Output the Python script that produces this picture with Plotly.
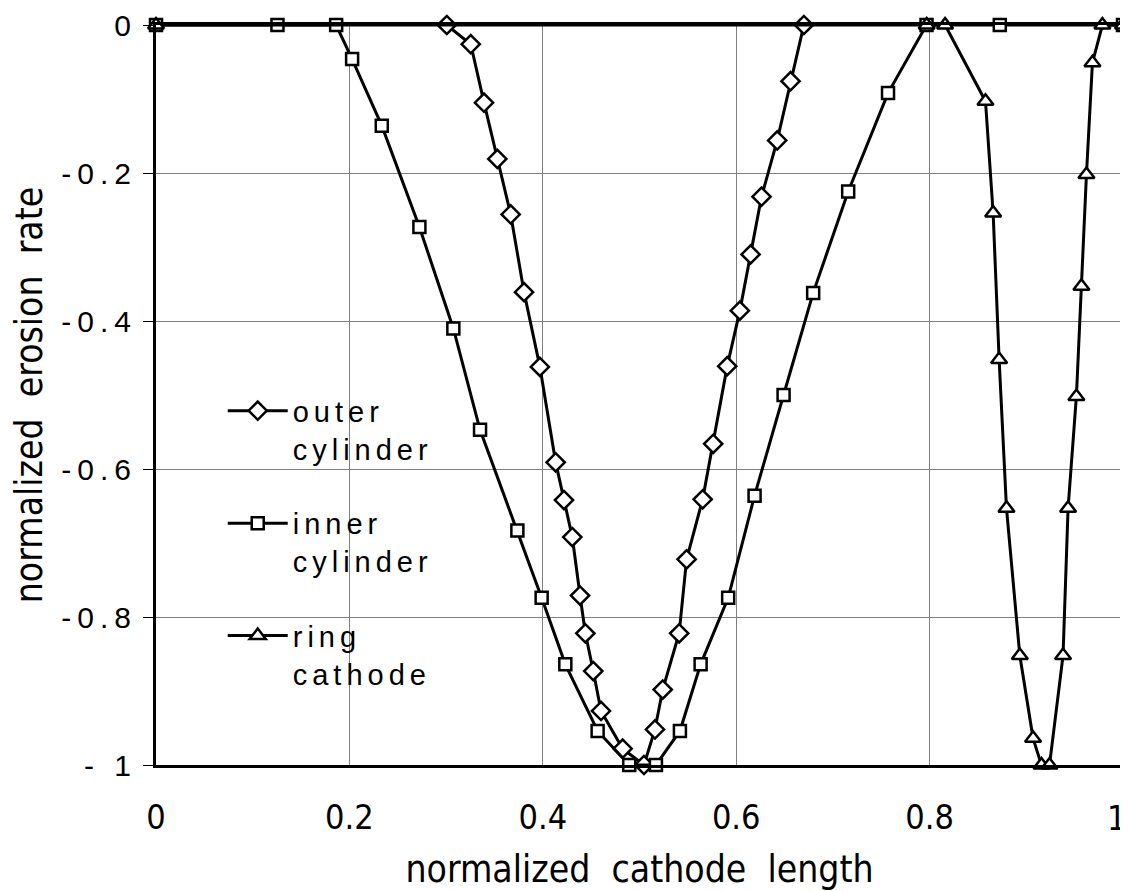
import plotly.graph_objects as go

# ---- data ----
outer_x = [0.3007, 0.3255, 0.3392, 0.3530, 0.3668, 0.3806, 0.3970, 0.4133, 0.4219, 0.4305,
           0.4385, 0.4440, 0.4522, 0.4602, 0.4826, 0.5046, 0.5160, 0.5240, 0.5410, 0.5487,
           0.5653, 0.5762, 0.5907, 0.6038, 0.6149, 0.6262, 0.6424, 0.6562, 0.6700]
outer_y = [0.0, -0.026, -0.105, -0.181, -0.256, -0.361, -0.462, -0.591, -0.642, -0.692,
           -0.771, -0.822, -0.873, -0.927, -0.978, -1.0, -0.952, -0.898, -0.822, -0.722,
           -0.641, -0.566, -0.461, -0.386, -0.310, -0.232, -0.156, -0.076, 0.0]

inner_x = [0.0, 0.1256, 0.1863, 0.2028, 0.2335, 0.2724, 0.3075, 0.3351, 0.3737, 0.3988,
           0.4233, 0.4567, 0.4894, 0.5170, 0.5418, 0.5632, 0.5917, 0.6190, 0.6490, 0.6796,
           0.7158, 0.7570, 0.7968, 0.8726, 1.0]
inner_y = [0.0, 0.0, 0.0, -0.046, -0.136, -0.273, -0.410, -0.547, -0.683, -0.774,
           -0.864, -0.954, -1.0, -1.0, -0.954, -0.864, -0.774, -0.636, -0.500, -0.362,
           -0.225, -0.092, 0.0, 0.0, 0.0]

ring_x = [0.0, 0.7970, 0.8160, 0.8578, 0.8657, 0.8719, 0.8795, 0.8933, 0.9070, 0.9157,
          0.9240, 0.9380, 0.9432, 0.9518, 0.9570, 0.9622, 0.9684, 0.9787, 1.0]
ring_y = [0.0, 0.0, 0.0, -0.103, -0.254, -0.452, -0.653, -0.852, -0.964, -1.0,
          -1.0, -0.852, -0.653, -0.502, -0.353, -0.202, -0.051, 0.0, 0.0]

x_tickvals = [0, 0.2, 0.4, 0.6, 0.8]
x_ticktext = ["0", "0.2", "0.4", "0.6", "0.8"]
x_last_tick = 1
x_last_text = "1"
x_minor_ticks = [0.2, 0.4, 0.6, 0.8]
y_tickvals = [0, -0.2, -0.4, -0.6, -0.8, -1]
y_ticktext = ["0", "-0.2", "-0.4", "-0.6", "-0.8", "- 1"]

series = [
    ("outer<br>cylinder", outer_x, outer_y, "diamond", 14, "outer"),
    ("inner<br>cylinder", inner_x, inner_y, "square", 12, "inner"),
    ("ring<br>cathode", ring_x, ring_y, "triangle-up", 14, "ring"),
]

NARROW = "Liberation Sans Narrow, DejaVu Sans Condensed, Arial Narrow, Liberation Sans, Arial, sans-serif"
ARIAL = "Liberation Sans, Arial, sans-serif"

fig = go.Figure()
for name, xs, ys, sym, sz, grp in series:
    fig.add_trace(go.Scatter(
        x=xs, y=ys, name=name, mode="lines+markers", legendgroup=grp,
        line=dict(color="black", width=3),
        marker=dict(symbol=sym, size=sz, color="white",
                    line=dict(color="black", width=2.5)),
        cliponaxis=False,
    ))

# last x tick label, kept inside the page (right-aligned on the x=1 position)
fig.add_annotation(
    x=x_last_tick, xref="x", y=0, yref="paper", text=x_last_text,
    showarrow=False, xanchor="right", yanchor="top", xshift=5, yshift=-31,
    font=dict(family=NARROW, size=34, color="black"),
)

# white box behind the legend, over the gridlines (as in the reference)
fig.add_shape(
    type="rect", xref="paper", yref="paper", x0=0.055, x1=0.313, y0=0.09, y1=0.51,
    fillcolor="white", line=dict(width=0), layer="between",
)

tick_axis_common = dict(showticklabels=False, showgrid=False, zeroline=False,
                        showline=False, tickcolor="black", tickwidth=1)

fig.update_layout(
    width=1120, height=883,
    margin=dict(l=148, r=5, t=17, b=126),
    paper_bgcolor="white", plot_bgcolor="white",
    showlegend=True,
    legend=dict(
        x=0.069, y=0.513, xanchor="left", yanchor="top",
        bgcolor="rgba(255,255,255,0)", borderwidth=0,
        font=dict(family=ARIAL, size=29, color="black"),
        valign="top", tracegroupgap=34, itemwidth=60,
    ),
    xaxis=dict(
        range=[0, 1], tickvals=x_tickvals, ticktext=x_ticktext,
        showgrid=True, gridcolor="#808080", gridwidth=1,
        showline=True, linecolor="black", linewidth=3, mirror=True,
        zeroline=False, ticks="", ticklabelstandoff=20,
        tickfont=dict(family=NARROW, size=34, color="black"),
        title=dict(text="normalized  cathode  length",
                   font=dict(family=NARROW, size=37, color="black"), standoff=22),
        automargin=False,
    ),
    xaxis2=dict(range=[0, 1], overlaying="x", side="top", anchor="y",
                tickvals=x_minor_ticks, ticks="outside", ticklen=9, **tick_axis_common),
    xaxis3=dict(range=[0, 1], overlaying="x", side="top", anchor="y",
                tickvals=x_minor_ticks, ticks="inside", ticklen=9, **tick_axis_common),
    yaxis=dict(
        range=[-1, 0], tickvals=y_tickvals, ticktext=y_ticktext,
        showgrid=True, gridcolor="#808080", gridwidth=1,
        showline=True, linecolor="black", linewidth=3, mirror=True,
        zeroline=False, ticks="outside", ticklen=10, tickcolor="black", tickwidth=1,
        ticklabelstandoff=0,
        tickfont=dict(family=ARIAL, size=30, color="black"),
        title=dict(text="normalized  erosion  rate",
                   font=dict(family=NARROW, size=37, color="black"), standoff=46),
        automargin=False,
    ),
    yaxis2=dict(range=[-1, 0], overlaying="y", side="left", anchor="x",
                tickvals=y_tickvals, ticks="inside", ticklen=10, **tick_axis_common),
)

post = """
var gd = document.getElementById('{plot_id}');
function spaced(){
  gd.querySelectorAll('.legendtext').forEach(function(t){ t.style.letterSpacing = '5px'; });
  gd.querySelectorAll('.ytick text').forEach(function(t){ t.style.letterSpacing = '6px'; });
  gd.querySelectorAll('clipPath[id^="legend"] rect').forEach(function(c){ c.setAttribute('width', 400); });
}
spaced();
if (gd.on) { gd.on('plotly_afterplot', spaced); }
setTimeout(spaced, 50);
setTimeout(spaced, 300);
"""

fig.write_html("out.html", post_script=post)
